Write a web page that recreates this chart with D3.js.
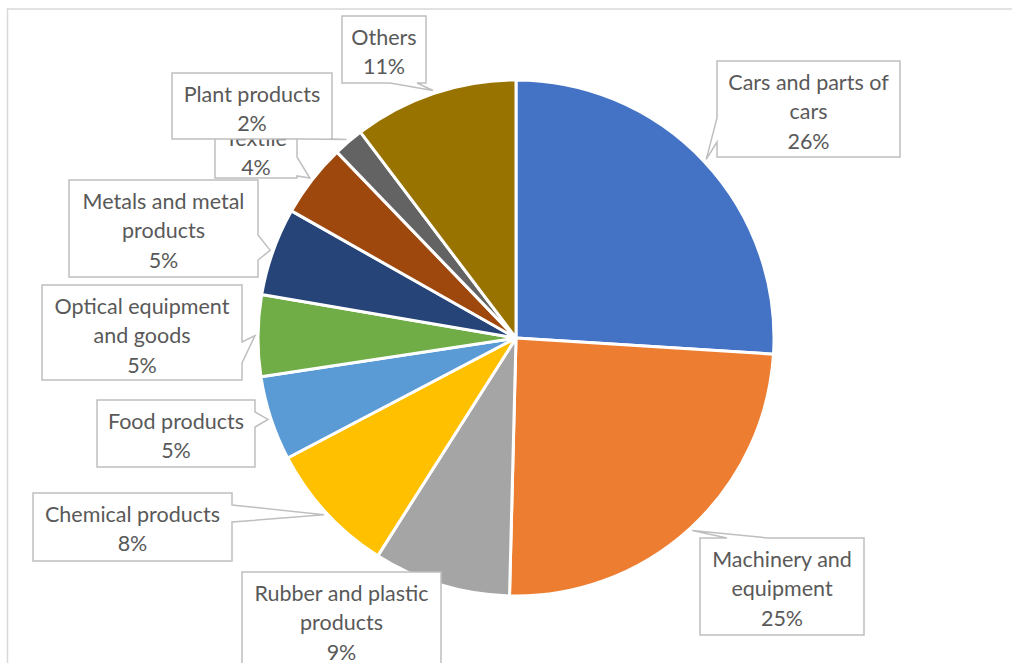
<!DOCTYPE html>
<html>
<head>
<meta charset="utf-8">
<script src="https://cdn.jsdelivr.net/npm/d3@7"></script>
<style>
  body { margin: 0; background: #fff; }
  svg { display: block; }
</style>
</head>
<body>
<div id="chart"></div>
<script>
// data (slice sizes from the angles, labels as printed)
var categories = ["Cars and parts of cars", "Machinery and equipment", "Rubber and plastic products",
  "Chemical products", "Food products", "Optical equipment and goods", "Metals and metal products",
  "Textile", "Plant products", "Others"];
var shares = [26.0, 24.4, 8.6, 8.3, 5.3, 5.1, 5.5, 4.6, 1.9, 10.3];
var percentLabels = ["26%", "25%", "9%", "8%", "5%", "5%", "5%", "4%", "2%", "11%"];
var colors = ["#4472C4", "#ED7D31", "#A5A5A5", "#FFC000", "#5B9BD5", "#70AD47",
  "#264478", "#9E480E", "#636363", "#997300"];

// label boxes (layout only): box, and where the callout wedge leaves it
var boxes = [
  {x: 717, y: 61, w: 183, h: 96, side: "left", a: 57, b: 81},
  {x: 700, y: 538, w: 164, h: 97, side: "top", a: 27, b: 68},
  {x: 242, y: 572, w: 199, h: 110, side: null},
  {x: 33, y: 493, w: 199, h: 68, side: "right", a: 12, b: 29},
  {x: 97, y: 400, w: 158, h: 67, side: "right", a: 12, b: 27},
  {x: 42, y: 285, w: 200, h: 95, side: "right", a: 57, b: 78},
  {x: 69, y: 180, w: 189, h: 97, side: "right", a: 55, b: 80},
  {x: 215, y: 117, w: 82, h: 61, side: "right", a: 40, b: 59},
  {x: 172, y: 73, w: 160, h: 66, side: "bottom", a: 131, b: 158},
  {x: 342, y: 16, w: 84, h: 67, side: "bottom", a: 48, b: 75}
];

var width = 1012, height = 663;
var cx = 516, cy = 338, radius = 258;

var svg = d3.select("#chart")
  .append("svg")
    .attr("width", width)
    .attr("height", height);

// chart area border
svg.append("rect")
  .attr("x", 7.5).attr("y", 9)
  .attr("width", 1030).attr("height", 700)
  .attr("fill", "none")
  .attr("stroke", "#d9d9d9")
  .attr("stroke-width", 1.5);

var pie = d3.pie().sort(null).value(function(d) { return d; });
var arcs = pie(shares);

var arc = d3.arc().innerRadius(0).outerRadius(radius);
var tipArc = d3.arc().innerRadius(radius + 3).outerRadius(radius + 3);

var g = svg.append("g").attr("transform", "translate(" + cx + "," + cy + ")");

g.selectAll("path")
  .data(arcs)
  .enter()
  .append("path")
    .attr("d", arc)
    .attr("fill", function(d, i) { return colors[i]; })
    .attr("stroke", "#fff")
    .attr("stroke-width", 3)
    .attr("stroke-linejoin", "round");

// callout outline: rectangle with a wedge pointing at the slice
function calloutPath(b, tip) {
  var x0 = b.x, y0 = b.y, x1 = b.x + b.w, y1 = b.y + b.h;
  var p = [[x0, y0]];
  if (b.side === "top") p.push([x0 + b.a, y0], tip, [x0 + b.b, y0]);
  p.push([x1, y0]);
  if (b.side === "right") p.push([x1, y0 + b.a], tip, [x1, y0 + b.b]);
  p.push([x1, y1]);
  if (b.side === "bottom") p.push([x0 + b.b, y1], tip, [x0 + b.a, y1]);
  p.push([x0, y1]);
  if (b.side === "left") p.push([x0, y0 + b.b], tip, [x0, y0 + b.a]);
  return "M" + p.map(function(q) { return q[0] + "," + q[1]; }).join("L") + "Z";
}

var labels = svg.append("g")
  .attr("font-family", "Lato, 'Open Sans', sans-serif")
  .attr("font-size", 21.5)
  .attr("fill", "#595959");

arcs.forEach(function(d, i) {
  var b = boxes[i];
  var c = tipArc.centroid(d);
  var tip = [cx + c[0], cy + c[1]];
  var lg = labels.append("g");

  lg.append("path")
    .attr("d", calloutPath(b, tip))
    .attr("fill", "#fff")
    .attr("stroke", "#bfbfbf")
    .attr("stroke-width", 1.5)
    .attr("stroke-linejoin", "miter");

  // wrap the category name to the box width
  var words = categories[i].split(" ");
  var lines = [];
  var probe = lg.append("text").attr("visibility", "hidden");
  var line = "";
  words.forEach(function(w) {
    var test = line ? line + " " + w : w;
    probe.text(test);
    if (line && probe.node().getComputedTextLength() > b.w - 12) {
      lines.push(line);
      line = w;
    } else {
      line = test;
    }
  });
  lines.push(line);
  probe.remove();
  lines.push(percentLabels[i]);

  lg.selectAll("text.l")
    .data(lines)
    .enter()
    .append("text")
      .attr("class", "l")
      .attr("x", b.x + b.w / 2)
      .attr("y", function(t, k) { return b.y + 21 + k * 29.5; })
      .attr("dy", "0.35em")
      .attr("text-anchor", "middle")
      .text(function(t) { return t; });
});
</script>
</body>
</html>
